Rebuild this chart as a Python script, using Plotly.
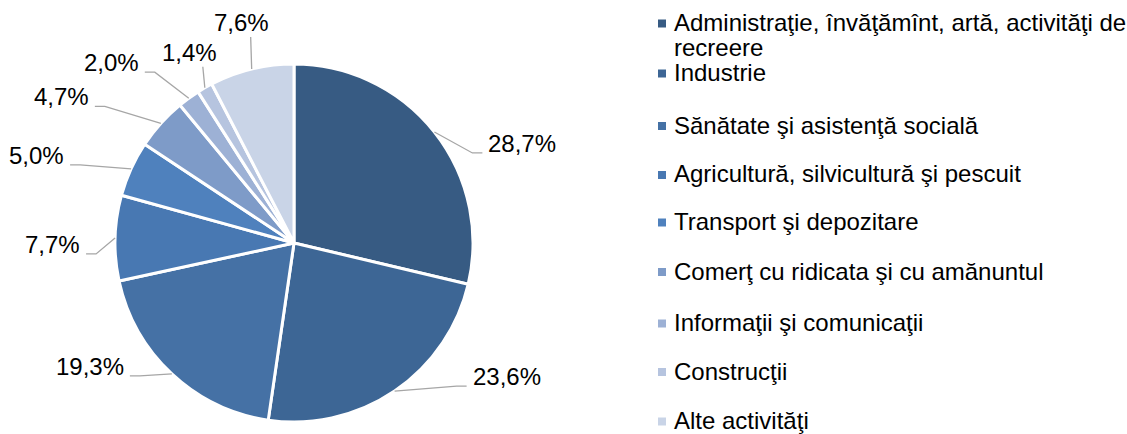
import math
import plotly.graph_objects as go

# ---- data ----
categories = [
    "Administraţie, învăţămînt, artă, activităţi de recreere",
    "Industrie",
    "Sănătate şi asistenţă socială",
    "Agricultură, silvicultură şi pescuit",
    "Transport şi depozitare",
    "Comerţ cu ridicata şi cu amănuntul",
    "Informaţii şi comunicaţii",
    "Construcţii",
    "Alte activităţi",
]
# legend text lines (first entry wraps onto two lines)
legend_lines = [
    ["Administraţie, învăţămînt, artă, activităţi de", "recreere"],
    ["Industrie"],
    ["Sănătate şi asistenţă socială"],
    ["Agricultură, silvicultură şi pescuit"],
    ["Transport şi depozitare"],
    ["Comerţ cu ridicata şi cu amănuntul"],
    ["Informaţii şi comunicaţii"],
    ["Construcţii"],
    ["Alte activităţi"],
]
values = [28.7, 23.6, 19.3, 7.7, 5.0, 4.7, 2.0, 1.4, 7.6]
value_labels = ["28,7%", "23,6%", "19,3%", "7,7%", "5,0%", "4,7%", "2,0%", "1,4%", "7,6%"]

# ---- styles / layout ----
colors = ["#375B83", "#3D6695", "#4571A5", "#4878B2", "#4F81BD",
          "#7E9BC8", "#9DB1D5", "#B6C4DF", "#C9D4E7"]
W, H = 1127, 434
dom_x = [115 / W, 473 / W]
dom_y = [1 - 422 / H, 1 - 64 / H]
# leader line outer end, in pixels relative to slice edge midpoint, and label side
leader_ends = [(48, 21), (72, -5), (-42, 2), (-29, 16), (-61, -4),
               (-66, -17), (-44, -26), (-2, -21), (-1, -32)]
label_side = ["r", "r", "l", "l", "l", "l", "l", "t", "t"]
top_label_dx = [0, 0, 0, 0, 0, 0, 0, -13, -9]
STUB = 10
FONT = "Liberation Sans, Arial, sans-serif"
FS = 24
LEADER = "#A6A6A6"

fig = go.Figure(go.Pie(
    labels=categories, values=values, sort=False, direction="clockwise",
    rotation=0, marker=dict(colors=colors, line=dict(color="white", width=3)),
    textinfo="none", hoverinfo="label+percent", showlegend=False,
    domain=dict(x=dom_x, y=dom_y),
))

# geometry of pie in pixels
cx = (dom_x[0] + dom_x[1]) / 2 * W
cy = (1 - (dom_y[0] + dom_y[1]) / 2) * H
r = min((dom_x[1] - dom_x[0]) * W, (dom_y[1] - dom_y[0]) * H) / 2
total = sum(values)


def fx(p):
    return p / W


def fy(p):
    return 1 - p / H


annotations = []
shapes = []
cum = 0.0
for i, (v, lab) in enumerate(zip(values, value_labels)):
    mid = (cum + v / 2) / total * 2 * math.pi
    cum += v
    px = cx + r * math.sin(mid)
    py = cy - r * math.cos(mid)
    ex, ey = px + leader_ends[i][0], py + leader_ends[i][1]
    side = label_side[i]
    if side == "r":
        elbow = (ex - STUB, ey)
        tx, ty, xa = ex + 4, ey - 9.5, "left"
    elif side == "l":
        elbow = (ex + STUB, ey)
        tx, ty, xa = ex - 4, ey - 9.5, "right"
    else:
        elbow = (ex, ey)
        tx, ty, xa = ex + top_label_dx[i], ey - 14.5, "center"
    path = "M {} {} L {} {} L {} {}".format(
        fx(px), fy(py), fx(elbow[0]), fy(elbow[1]), fx(ex), fy(ey))
    shapes.append(dict(type="path", xref="paper", yref="paper", path=path,
                       line=dict(color=LEADER, width=1.3)))
    annotations.append(dict(
        x=fx(tx), y=fy(ty), xref="paper", yref="paper",
        xanchor=xa, yanchor="middle", text=lab, showarrow=False,
        font=dict(family=FONT, size=FS, color="black"),
    ))

# manual legend
legend_x_sq = 662
legend_x_text = 672
row_y = [23.5, 73.5, 126, 175, 222.5, 272, 323.5, 372, 421.5]
line_gap = 25
sq = 8
for i, (lines, col) in enumerate(zip(legend_lines, colors)):
    y = row_y[i]
    shapes.append(dict(
        type="rect", xref="paper", yref="paper",
        x0=fx(legend_x_sq - sq / 2), x1=fx(legend_x_sq + sq / 2),
        y0=fy(y + sq / 2), y1=fy(y - sq / 2),
        fillcolor=col, line=dict(width=0),
    ))
    for j, line in enumerate(lines):
        ly = y + j * line_gap
        annotations.append(dict(
            x=fx(legend_x_text), y=fy(ly - 1),
            xref="paper", yref="paper",
            xanchor="left", yanchor="middle",
            text=line, showarrow=False, align="left",
            font=dict(family=FONT, size=FS, color="black"),
        ))

fig.update_layout(
    width=W, height=H, margin=dict(l=0, r=0, t=0, b=0),
    paper_bgcolor="white", plot_bgcolor="white",
    annotations=annotations, shapes=shapes,
    font=dict(family=FONT, size=FS),
)

fig.write_html("out.html", config={"displayModeBar": False},
               post_script="document.body.style.margin='0px';")
